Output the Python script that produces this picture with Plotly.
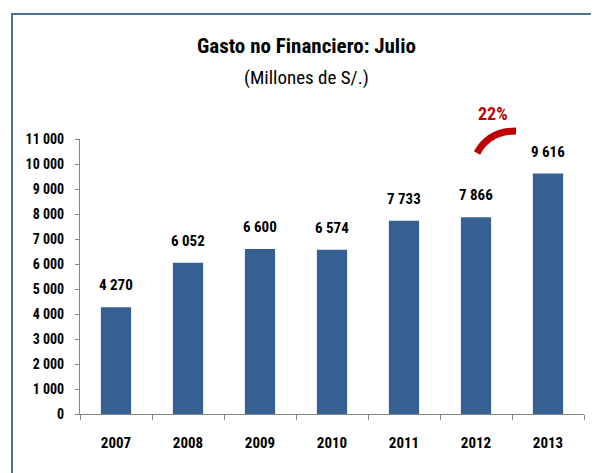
import plotly.graph_objects as go

years = ["2007", "2008", "2009", "2010", "2011", "2012", "2013"]
gasto = [4270, 6052, 6600, 6574, 7733, 7866, 9616]
growth_label = "22%"

FONT = "Liberation Sans Narrow, Roboto Condensed, Arial Narrow, sans-serif"

# the page puts the figure 8px in from the top-left corner
OFF = 8
W, H = 599 - OFF, 473 - OFF
# plot area in reference pixels: x 80..584, y 139..414
X0, X1, Y0, Y1 = 80, 584, 139, 414
L, R, T, B = X0 - OFF, W - (X1 - OFF), Y0 - OFF, H - (Y1 - OFF)
pw, ph = X1 - X0, Y1 - Y0


def px(x):
    return (x - X0) / pw


def py(y):
    return (Y1 - y) / ph


fig = go.Figure()
fig.add_trace(go.Bar(x=years, y=gasto, marker=dict(color="#376092", line=dict(width=0)),
                     width=0.42, showlegend=False))

# data labels above bars (category axis: annotation x is the category index)
for i, v in enumerate(gasto):
    fig.add_annotation(x=i, y=v, text="<b>%s</b>" % format(v, ",").replace(",", " "),
                       showarrow=False, xanchor="center", yanchor="bottom", yshift=11,
                       font=dict(family=FONT, size=15, color="#000000"))

# titles
fig.add_annotation(xref="paper", yref="paper", x=px(306), y=py(46),
                   xanchor="center", yanchor="middle",
                   text="<b>Gasto no Financiero: Julio</b>", showarrow=False,
                   font=dict(family=FONT, size=21, color="#000000"))
fig.add_annotation(xref="paper", yref="paper", x=px(306), y=py(78),
                   xanchor="center", yanchor="middle",
                   text="(Millones de S/.)", showarrow=False,
                   font=dict(family=FONT, size=19, color="#000000"))

# growth marker
fig.add_annotation(xref="paper", yref="paper", x=px(493), y=py(113),
                   xanchor="center", yanchor="middle",
                   text="<b>%s</b>" % growth_label, showarrow=False,
                   font=dict(family=FONT, size=18, color="#C00000"))
fig.add_shape(type="path", xref="paper", yref="paper",
              path="M %f,%f Q %f,%f %f,%f" % (px(477), py(153), px(489), py(131), px(516), py(131)),
              line=dict(color="#C00000", width=7))

# outer frame
fig.add_shape(type="rect", xref="paper", yref="paper",
              x0=px(12), y0=py(490), x1=px(620), y1=py(14),
              line=dict(color="#4F6F98", width=2))

fig.update_layout(
    width=W, height=H,
    margin=dict(l=L, r=R, t=T, b=B),
    paper_bgcolor="white", plot_bgcolor="white",
    separators=", ",
    xaxis=dict(type="category", range=[-0.5, len(years) - 0.5],
               showline=True, linecolor="#868686", linewidth=1,
               ticks="outside", tickson="boundaries", ticklen=5, tickcolor="#868686",
               ticklabelstandoff=15,
               tickfont=dict(family=FONT, size=15, color="#000000", weight="bold"),
               showgrid=False),
    yaxis=dict(range=[0, 11000], dtick=1000, tickformat=",d",
               showline=True, linecolor="#868686", linewidth=1,
               ticks="outside", ticklen=4, tickcolor="#868686",
               ticklabelstandoff=8,
               tickfont=dict(family=FONT, size=14, color="#000000", weight="bold"),
               showgrid=False, zeroline=False),
)

fig.write_html("out.html")
